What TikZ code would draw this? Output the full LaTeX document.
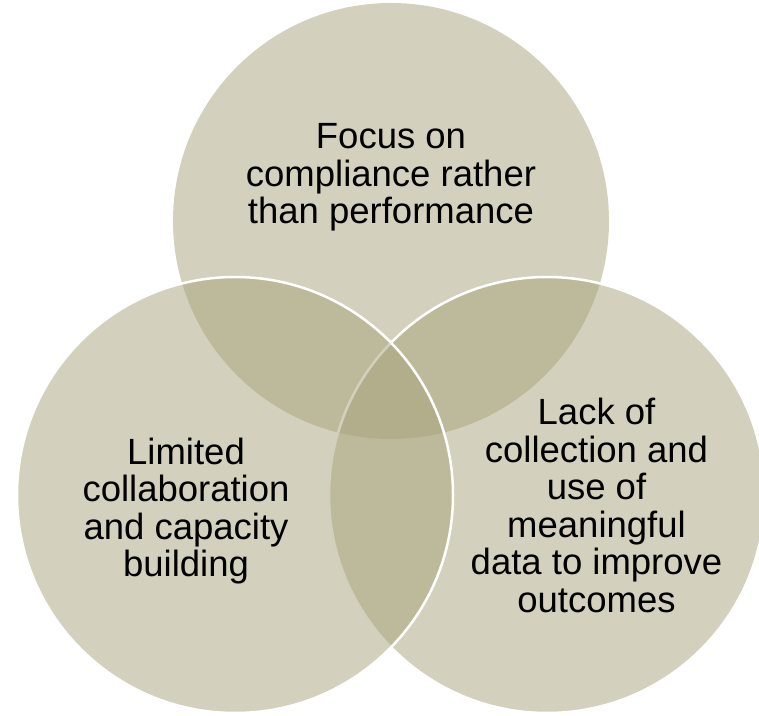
\documentclass[tikz,border=0pt]{standalone}
\usepackage{fontspec}
\setmainfont{Liberation Sans}
\usepackage{xcolor}
\usepackage{tikz}
\definecolor{bubble}{HTML}{A7A37B}
\definecolor{rim}{HTML}{FFFFFF}
\definecolor{ink}{HTML}{000000}
\tikzset{
  venn/.style={circle, minimum size=436, inner sep=0pt, fill=bubble, fill opacity=0.5},
  vennrim/.style={venn, draw=rim, line width=2.5},
  lab/.style={text=ink, align=center, font=\fontsize{36.5}{37.5}\selectfont},
}

\begin{document}
\begin{tikzpicture}[x=1pt,y=1pt]
  \useasboundingbox (0,0) rectangle (759,715);
  \clip (0,0) rectangle (759,715);

  \node[venn] (top) at (391,494) {};
  \node[vennrim] (right) at (547,220) {};
  \node[vennrim] (left) at (235,220) {};

  \node[lab] (focus) at (391,537.7) {Focus on\\compliance rather\\than performance};
  \node[lab] (collab) at (186,204) {Limited\\collaboration\\and capacity\\building};
  \node[lab] (data) at (596.5,209.3) {Lack of\\collection and\\use of\\meaningful\\data to improve\\outcomes};
\end{tikzpicture}
\end{document}
